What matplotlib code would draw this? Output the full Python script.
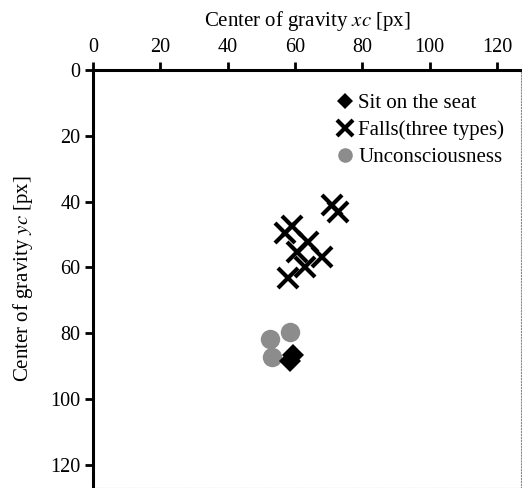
import numpy as np
import matplotlib
matplotlib.use('Agg')
import matplotlib.pyplot as plt

plt.rcParams['font.family'] = ['Liberation Serif', 'DejaVu Serif']
plt.rcParams['mathtext.fontset'] = 'stix'

# data
sit_x = [59.5, 58.6]
sit_y = [86.6, 88.3]

fall_x = [70.9, 72.9, 59.0, 57.0, 64.0, 60.5, 67.9, 63.0, 58.0]
fall_y = [41.2, 43.3, 47.3, 49.6, 52.4, 55.4, 56.8, 59.8, 63.3]

unc_x = [58.5, 52.6, 53.1]
unc_y = [79.5, 81.8, 87.1]

x_ticks = [0, 20, 40, 60, 80, 100, 120]
y_ticks = [0, 20, 40, 60, 80, 100, 120]

fig = plt.figure(figsize=(5.22, 4.88), dpi=100)
ax = fig.add_axes([0.178, 0.0, 0.82, 0.857])

ax.plot(unc_x, unc_y, 'o', color='#8c8c8c', markersize=14, markeredgewidth=0,
        label='Unconsciousness', zorder=2)
ax.plot(fall_x, fall_y, 'x', color='black', markersize=15, markeredgewidth=3,
        label='Falls(three types)', zorder=3)
ax.plot(sit_x, sit_y, 'D', color='black', markersize=11, markeredgewidth=0,
        label='Sit on the seat', zorder=4)

ax.set_xlim(0, 127.1)
ax.set_ylim(127, 0)
ax.xaxis.set_ticks_position('top')
ax.xaxis.set_label_position('top')
ax.set_xticks(x_ticks)
ax.set_yticks(y_ticks)
ax.tick_params(axis='both', labelsize=14.5, width=2, length=6, direction='out', pad=3)

ax.set_xlabel('Center of gravity $xc$ [px]', fontsize=15, labelpad=9)
ax.set_ylabel('Center of gravity $yc$ [px]', fontsize=15, labelpad=11)

ax.spines['left'].set_linewidth(2.2)
ax.spines['top'].set_linewidth(2.2)
for s in ['right', 'bottom']:
    ax.spines[s].set_linewidth(0.8)
    ax.spines[s].set_color('#888888')
    ax.spines[s].set_linestyle(':')

handles, labels = ax.get_legend_handles_labels()
order = [2, 1, 0]
leg = ax.legend([handles[i] for i in order], [labels[i] for i in order],
                loc='upper right', bbox_to_anchor=(0.995, 0.978), frameon=False,
                fontsize=15, handletextpad=0.2, handlelength=0.9,
                labelspacing=0.36, markerscale=0.75, borderaxespad=0.3)

fig.savefig('out.png', dpi=100)
